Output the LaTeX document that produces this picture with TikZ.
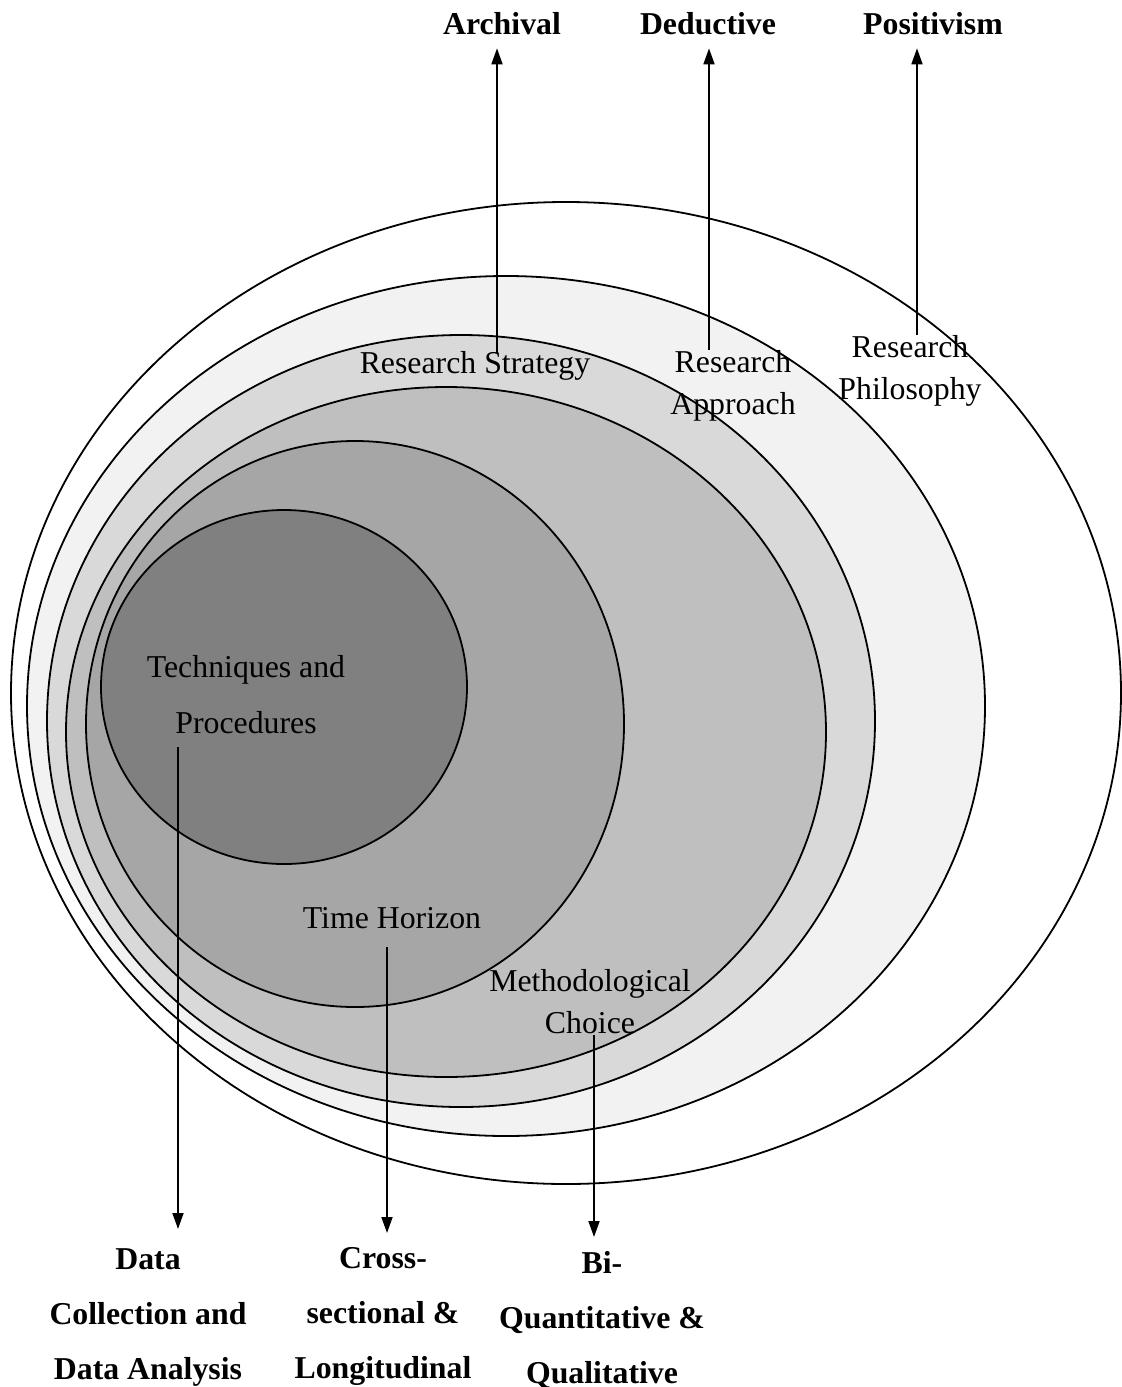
\documentclass[tikz,border=0pt]{standalone}
\usepackage{fontspec}
\setmainfont{Liberation Serif}
\usetikzlibrary{arrows.meta, positioning}

\begin{document}
\begin{tikzpicture}[x=0.5pt, y=-0.5pt,
    layer/.style={draw, line width=0.9pt},
    lbl/.style={inner sep=0pt, align=center, font=\fontsize{15.9}{21}\selectfont},
    outcome/.style={inner sep=0pt, outer sep=7pt, align=center, font=\fontsize{15.9}{27.5}\selectfont\bfseries},
    arrow/.style={line width=0.9pt, -{Triangle[length=8pt, width=5.5pt]}}]
    \useasboundingbox (0,0) rectangle (1122,1387);
    % onion layers, outside in
    \draw [layer, fill=white] (566,693) ellipse [x radius=555, y radius=491];
    \draw [layer, fill=black!5] (506,706) ellipse [x radius=479, y radius=430];
    \draw [layer, fill=black!15] (461,721) ellipse [x radius=414, y radius=386];
    \draw [layer, fill=black!25] (446,732) ellipse [x radius=380, y radius=345];
    \draw [layer, fill=black!35] (355,724) ellipse [x radius=269, y radius=283];
    \draw [layer, fill=black!50] (284,687) ellipse [x radius=183, y radius=177];

    % layer names
    \node [lbl] (strategy) at (475,366) {Research Strategy};
    \node [lbl] (approach) at (733,386) {Research\\Approach};
    \node [lbl] (philosophy) at (910,371) {Research\\Philosophy};
    \node [lbl, font=\fontsize{15.9}{28}\selectfont] (techniques) at (246,695) {Techniques and\\Procedures};
    \node [lbl] (horizon) at (392,918) {Time Horizon};
    \node [lbl] (choice) at (590,1002) {Methodological\\Choice};

    % choices made
    \node [outcome, anchor=base] (archival) at (502,34) {Archival};
    \node [outcome, anchor=base] (deductive) at (708,34) {Deductive};
    \node [outcome, anchor=base] (positivism) at (933,34) {Positivism};
    \node [outcome, anchor=north] (data) at (148,1235) {Data\\Collection and\\Data Analysis};
    \node [outcome, anchor=north] (cross) at (383,1233) {Cross-\\sectional \&\\Longitudinal};
    \node [outcome, anchor=north] (bi) at (602,1237) {Bi-\\Quantitative \&\\Qualitative};

    \coordinate (tailA) at (497,353);
    \coordinate (tailD) at (709,350);
    \coordinate (tailP) at (917,335);
    \coordinate (tailT) at (178,747);
    \coordinate (tailH) at (387,947);
    \coordinate (tailM) at (594,1035);
    \draw [arrow] (tailA) -- (tailA |- archival.south);
    \draw [arrow] (tailD) -- (tailD |- deductive.south);
    \draw [arrow] (tailP) -- (tailP |- positivism.south);
    \draw [arrow, shorten >=3pt] (tailT) -- (tailT |- data.north);
    \draw [arrow] (tailH) -- (tailH |- cross.north);
    \draw [arrow] (tailM) -- (tailM |- bi.north);
\end{tikzpicture}
\end{document}
